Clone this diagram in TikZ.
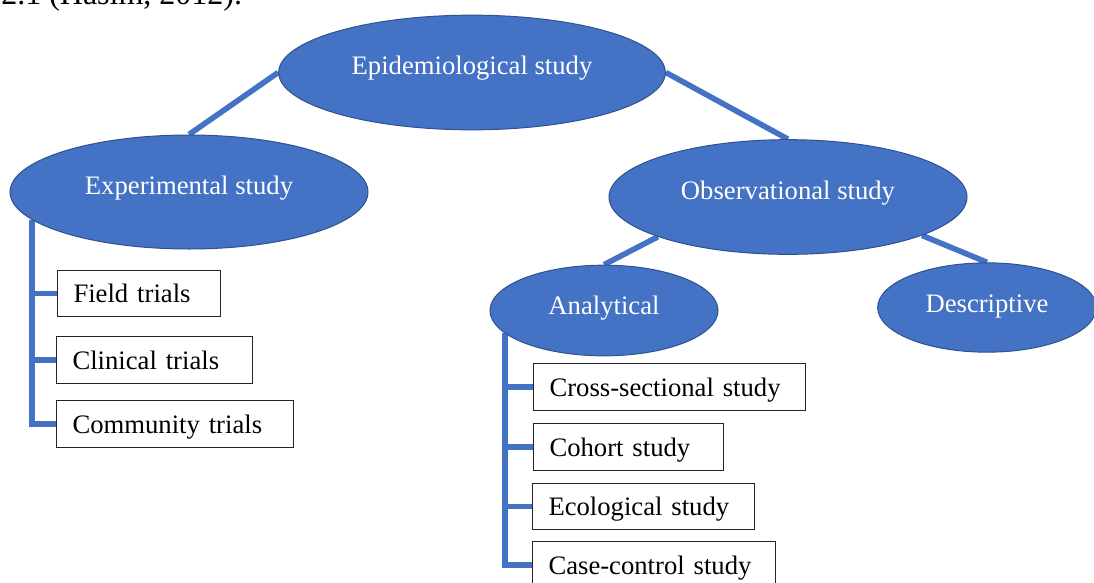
\documentclass[tikz,border=0pt]{standalone}
\usepackage{fontspec}
\setmainfont{Liberation Serif}
\usepackage{tikz}
\usetikzlibrary{shapes.geometric, positioning, backgrounds}
\definecolor{bubblefill}{HTML}{4472C4}
\definecolor{bubbleedge}{HTML}{2F528F}
\tikzset{
	bubble/.style = {ellipse, draw=bubbleedge, line width=0.75pt, fill=bubblefill,
		text=white, inner sep=0pt, text height=13.5pt, text depth=10pt,
		font=\fontsize{20}{24}\selectfont},
	leaf/.style = {rectangle, draw=black!85, line width=0.75pt, fill=white,
		anchor=west, inner xsep=12pt, inner ysep=0pt, minimum height=35pt,
		text width=#1, align=left, text height=14.4pt, text depth=0.4pt,
		font=\fontsize{20}{24}\selectfont},
	link/.style = {line width=4.2pt, draw=bubblefill, line join=miter}
}

\begin{document}
\begin{tikzpicture}[x=0.75pt, y=-0.75pt]
\useasboundingbox (0,0) rectangle (1094,582);
%----------------------------------------------------------------------------
% Caption line cut by the top edge
\node (caption) [anchor=base west, inner sep=0pt, font=\fontsize{24}{28}\selectfont] at (1,4) {2.1 (Hasim, 2012).};

%----------------------------------------------------------------------------
% Placement of study nodes
\node (epi) [bubble, minimum width=290pt, minimum height=86pt] at (472,72.5) {Epidemiological study};
\node (exp) [bubble, minimum width=268.5pt, minimum height=85.5pt] at (189,192) {Experimental study};
\node (obs) [bubble, minimum width=268.5pt, minimum height=86pt] at (788,197) {Observational study};
\node (ana) [bubble, minimum width=171pt, minimum height=68pt, text height=14.5pt, text depth=9pt] at (604,310.5) {Analytical};
\node (desc) [bubble, minimum width=164pt, minimum height=67pt, text height=15.5pt, text depth=8.5pt] at (987,307.5) {Descriptive};

% experimental branches
\node (field) [leaf=98pt] at (57,293.5) {Field trials};
\node (clinical) [leaf=123pt] at (56,360) {Clinical trials};
\node (community) [leaf=154pt] at (56,424) {Community trials};

% analytical branches
\node (cross) [leaf=180pt] at (533,387) {Cross-sectional study};
\node (cohort) [leaf=118.5pt] at (533,447) {Cohort study};
\node (eco) [leaf=142.5pt] at (532,506.5) {Ecological study};
\node (case) [leaf=158pt] at (532,565) {Case-control study};

%----------------------------------------------------------------------------
% Draw lines
\begin{scope}[on background layer]
\draw [link] (epi.west) -- (exp.north);
\draw [link] (epi.east) -- (obs.north);
\draw [link] (obs.197) -- (ana.north);
\draw [link] (obs.344) -- (desc.north);

\draw [link] (exp.190) |- (field.west);
\draw [link] (exp.190) |- (clinical.west);
\draw [link] (exp.190) |- (community.west);

\draw [link] (ana.193) |- (cross.west);
\draw [link] (ana.193) |- (cohort.west);
\draw [link] (ana.193) |- (eco.west);
\draw [link] (ana.193) |- (case.west);
\end{scope}

\end{tikzpicture}
\end{document}
